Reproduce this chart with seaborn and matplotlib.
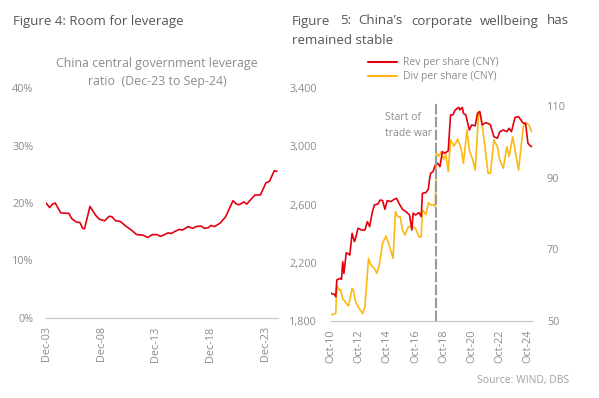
import matplotlib
matplotlib.use("Agg")
import matplotlib.pyplot as plt
import matplotlib.dates as mdates
import seaborn as sns
import pandas as pd

# ---------------- data ----------------
lev_dates = ["2003-12", "2004-04", "2004-07", "2004-10", "2005-04", "2005-10", "2006-01",
             "2006-04", "2006-09", "2007-01", "2007-04", "2007-06", "2007-12", "2008-06",
             "2008-10", "2009-04", "2009-09", "2009-12", "2010-04", "2010-09", "2011-03",
             "2011-09", "2012-03", "2012-10", "2013-03", "2013-08", "2014-01", "2014-05",
             "2014-08", "2015-01", "2015-05", "2015-08", "2016-01", "2016-05", "2016-11",
             "2017-04", "2017-08", "2018-01", "2018-05", "2018-09", "2018-12", "2019-04",
             "2019-10", "2020-04", "2020-12", "2021-04", "2021-07", "2021-12", "2022-03",
             "2022-12", "2023-06", "2023-12", "2024-04", "2024-09", "2024-12"]
lev_values = [20.0, 19.2, 19.8, 20.0, 18.3, 18.2, 18.2, 17.3, 16.7, 16.6, 15.6, 15.5, 19.4, 17.9,
              17.2, 16.9, 17.7, 17.6, 16.9, 16.8, 16.0, 15.3, 14.5, 14.4, 14.0, 14.5, 14.5, 14.2,
              14.4, 14.8, 14.7, 15.0, 15.4, 15.3, 15.9, 15.6, 15.9, 16.0, 15.6, 15.7, 16.1, 15.9,
              16.5, 17.6, 20.4, 19.8, 19.7, 20.2, 19.8, 21.4, 21.4, 23.5, 23.8, 25.6, 25.5]
lev_ticks = ["2003-12", "2008-12", "2013-12", "2018-12", "2023-12"]
lev_yticks = [0, 10, 20, 30, 40]

rev_dates = ["2010-10", "2011-01", "2011-02", "2011-03", "2011-06", "2011-07", "2011-08",
             "2011-09", "2011-11", "2012-01", "2012-02", "2012-04", "2012-06", "2012-07",
             "2012-09", "2012-12", "2013-03", "2013-05", "2013-07", "2013-09", "2013-11",
             "2014-02", "2014-04", "2014-06", "2014-08", "2014-10", "2015-01", "2015-04",
             "2015-06", "2015-08", "2015-11", "2016-02", "2016-05", "2016-07", "2016-08",
             "2016-10", "2017-01", "2017-03", "2017-04", "2017-07", "2017-09", "2017-10",
             "2017-11", "2018-01", "2018-03", "2018-05", "2018-07", "2018-09", "2018-11",
             "2019-02", "2019-04", "2019-06", "2019-08", "2019-11", "2019-12", "2020-02",
             "2020-03", "2020-05", "2020-08", "2020-10", "2021-01", "2021-03", "2021-05",
             "2021-07", "2021-10", "2022-01", "2022-02", "2022-05", "2022-08", "2022-10",
             "2023-01", "2023-04", "2023-06", "2023-08", "2023-11", "2024-02", "2024-04",
             "2024-06", "2024-08", "2024-10", "2024-12", "2025-01"]
rev_values = [1990, 1983, 1967, 2082, 2093, 2086, 2207, 2127, 2269, 2260, 2253, 2402, 2345, 2368,
              2437, 2425, 2425, 2482, 2448, 2540, 2597, 2604, 2631, 2627, 2567, 2627, 2620, 2636,
              2642, 2608, 2567, 2551, 2528, 2425, 2540, 2528, 2544, 2517, 2677, 2682, 2705, 2769,
              2814, 2826, 2871, 2883, 2860, 2963, 2951, 2969, 3215, 3215, 3249, 3267, 3249, 3267,
              3226, 3215, 3112, 3146, 3140, 3226, 3238, 3146, 3162, 3153, 3146, 3066, 3055, 3100,
              3112, 3100, 3123, 3100, 3198, 3203, 3181, 3158, 3158, 3021, 3002, 2998]

div_dates = ["2010-10", "2011-01", "2011-02", "2011-03", "2011-05", "2011-06", "2011-08",
             "2011-11", "2012-01", "2012-04", "2012-05", "2012-07", "2012-10", "2013-01",
             "2013-03", "2013-06", "2013-08", "2013-11", "2014-01", "2014-03", "2014-06",
             "2014-08", "2014-09", "2014-12", "2015-03", "2015-05", "2015-07", "2015-09",
             "2015-11", "2016-01", "2016-04", "2016-07", "2016-10", "2017-01", "2017-03",
             "2017-04", "2017-07", "2017-09", "2017-11", "2018-01", "2018-03", "2018-04",
             "2018-06", "2018-08", "2018-10", "2018-12", "2019-02", "2019-04", "2019-07",
             "2019-10", "2020-01", "2020-03", "2020-06", "2020-08", "2020-11", "2021-01",
             "2021-04", "2021-06", "2021-09", "2021-12", "2022-02", "2022-05", "2022-08",
             "2022-10", "2023-01", "2023-04", "2023-06", "2023-09", "2023-12", "2024-02",
             "2024-06", "2024-08", "2024-11", "2025-01"]
div_values = [51.7, 52.0, 52.1, 60.0, 58.6, 58.8, 56.3, 54.9, 54.2, 59.1, 58.7, 55.4, 53.5, 52.1,
              54.0, 67.5, 65.6, 64.7, 63.3, 65.2, 71.7, 73.1, 73.7, 70.7, 67.5, 80.5, 79.1, 79.1,
              75.4, 74.0, 76.3, 76.3, 75.9, 73.5, 73.5, 81.0, 79.6, 83.0, 82.4, 82.4, 82.0, 96.8,
              96.0, 97.2, 95.1, 96.3, 91.7, 100.5, 98.8, 100.7, 98.2, 94.0, 103.3, 97.7, 94.9, 92.1,
              108.4, 107.0, 99.6, 91.2, 91.2, 100.5, 98.6, 94.9, 92.6, 98.6, 95.9, 101.4, 95.9, 92.1,
              104.2, 105.3, 104.7, 102.8]
rev_yticks = [1800, 2200, 2600, 3000, 3400]
div_yticks = [50, 70, 90, 110]
cny_ticks = ["2010-10", "2012-10", "2014-10", "2016-10", "2018-10", "2020-10", "2022-10", "2024-10"]
trade_war_date = "2018-03-15"

# ---------------- style ----------------
sns.set_theme(style="white")
plt.rcParams["font.family"] = ["Open Sans", "DejaVu Sans"]
RED = "#E3000F"
ORANGE = "#FDB913"
GREY_TXT = "#8C8C8C"
TITLE = "#555555"
AX_LINE = "#C8C8C8"

fig = plt.figure(figsize=(5.99, 3.98), dpi=100)
W, H = 599, 398


def box(x0, x1, ytop, ybot):
    return [x0 / W, (H - ybot) / H, (x1 - x0) / W, (ybot - ytop) / H]


def style_axes(ax):
    for s in ["left", "right", "top"]:
        ax.spines[s].set_visible(False)
    ax.spines["bottom"].set_color(AX_LINE)
    ax.spines["bottom"].set_linewidth(0.9)
    ax.tick_params(axis="x", colors=AX_LINE, labelcolor=GREY_TXT, length=4, width=0.9,
                   labelsize=7.8, rotation=90, pad=2)
    ax.tick_params(axis="y", length=0, labelcolor=GREY_TXT, labelsize=7.8)
    ax.grid(False)
    ax.set_xlabel("")
    ax.set_ylabel("")


# ---------------- left chart ----------------
df_lev = pd.DataFrame({"date": pd.to_datetime(lev_dates), "value": lev_values})
ax1 = fig.add_axes(box(46, 278, 88, 318))
sns.lineplot(data=df_lev, x="date", y="value", ax=ax1, color=RED, linewidth=1.2)
ax1.set_ylim(0, 40)
ax1.set_xlim(pd.Timestamp("2003-12-01"), pd.Timestamp("2025-01-05"))
ax1.set_yticks(lev_yticks)
ax1.set_yticklabels([f"{v}%" for v in lev_yticks])
ax1.set_xticks(pd.to_datetime(lev_ticks))
ax1.xaxis.set_major_formatter(mdates.DateFormatter("%b-%y"))
style_axes(ax1)
ax1.tick_params(axis="y", pad=9)

# ---------------- right chart ----------------
df_rev = pd.DataFrame({"date": pd.to_datetime(rev_dates), "value": rev_values})
df_div = pd.DataFrame({"date": pd.to_datetime(div_dates), "value": div_values})
ax2 = fig.add_axes(box(331, 533, 88, 321))
sns.lineplot(data=df_rev, x="date", y="value", ax=ax2, color=RED, linewidth=1.2, zorder=3)
ax2.set_ylim(1800, 3400)
ax2.set_xlim(pd.Timestamp("2010-10-01"), pd.Timestamp("2025-02-10"))
ax2.set_yticks(rev_yticks)
ax2.set_yticklabels([f"{v:,}" for v in rev_yticks])
ax2.set_xticks(pd.to_datetime(cny_ticks))
ax2.xaxis.set_major_formatter(mdates.DateFormatter("%b-%y"))
style_axes(ax2)
ax2.tick_params(axis="y", pad=10)

ax3 = ax2.twinx()
sns.lineplot(data=df_div, x="date", y="value", ax=ax3, color=ORANGE, linewidth=1.2, zorder=2)
ax3.set_ylim(50, 115)
ax3.set_yticks(div_yticks)
for s in ["left", "right", "top", "bottom"]:
    ax3.spines[s].set_visible(False)
ax3.tick_params(axis="y", length=0, labelcolor=GREY_TXT, labelsize=7.8, pad=10)
ax3.set_ylabel("")
ax3.grid(False)

ax2.axvline(pd.Timestamp(trade_war_date), ymin=0, ymax=0.94, color="#9A9A9A",
            linewidth=1.5, linestyle=(0, (5, 1.2)), zorder=4)
ax2.set_zorder(ax3.get_zorder() + 1)
ax2.patch.set_visible(False)

# legend
fig.add_artist(plt.Line2D([368 / W, 397 / W], [1 - 62 / H, 1 - 62 / H], color=RED, linewidth=1.5))
fig.add_artist(plt.Line2D([368 / W, 397 / W], [1 - 76 / H, 1 - 76 / H], color=ORANGE, linewidth=1.5))
fig.text(403 / W, 1 - 62 / H, "Rev per share (CNY)", color=GREY_TXT, fontsize=7.5, va="center")
fig.text(403 / W, 1 - 76 / H, "Div per share (CNY)", color=GREY_TXT, fontsize=7.5, va="center")

fig.text(385 / W, 1 - 118 / H, "Start of", color=GREY_TXT, fontsize=7.5, va="center")
fig.text(385 / W, 1 - 133 / H, "trade war", color=GREY_TXT, fontsize=7.5, va="center")

# titles
fig.text(13 / W, 1 - 21 / H, "Figure 4: Room for leverage", color=TITLE, fontsize=9.5, va="center")
words = [("Figure", 292), ("5:", 340), ("China\u2019s", 358), ("corporate", 411),
         ("wellbeing", 480), ("has", 547)]
for w, x in words:
    fig.text(x / W, 1 - 21 / H, w, color=TITLE, fontsize=9.5, va="center")
fig.text(292 / W, 1 - 40 / H, "remained stable", color=TITLE, fontsize=9.5, va="center")

fig.text(157 / W, 1 - 63 / H, "China central government leverage", color=GREY_TXT,
         fontsize=8.9, ha="center", va="center")
fig.text(157 / W, 1 - 81 / H, "ratio  (Dec-23 to Sep-24)", color=GREY_TXT,
         fontsize=8.9, ha="center", va="center")

fig.text(569 / W, 1 - 381 / H, "Source: WIND, DBS", color="#A0A0A0", fontsize=7.5,
         ha="right", va="center")

fig.savefig("out.png", dpi=100)
